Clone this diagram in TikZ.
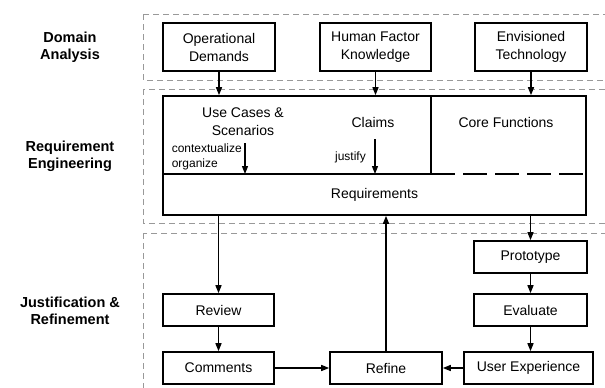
\documentclass[tikz,border=0pt]{standalone}
\usepackage{fontspec}
\setmainfont{Liberation Sans}
\usepackage{tikz}
\usetikzlibrary{arrows.meta}

\begin{document}
\begin{tikzpicture}[x=1pt, y=-1pt,
    box/.style={draw, line width=1.6pt, align=center, inner sep=0pt,
                font=\fontsize{14}{18}\selectfont},
    frame/.style={draw=gray!80, line width=0.8pt, dash pattern=on 6pt off 4pt},
    phase/.style={align=center, font=\fontsize{14.5}{17}\selectfont\bfseries},
    arr/.style={-{Triangle[length=8pt, width=6pt]}, line width=1.3pt},
    small/.style={align=left, inner sep=0pt, font=\fontsize{12}{15}\selectfont}]

    \fill[white] (0,0) rectangle (605,388);
    \useasboundingbox (0,0) rectangle (605,388);

    % the three stages
    \draw[frame] (143,14) rectangle (615,80);
    \draw[frame] (143,89) rectangle (615,223);
    \draw[frame] (143,233) rectangle (615,398);

    \node[phase] (domain) at (70,47) {Domain\\Analysis};
    \node[phase] (reqphase) at (70,156) {Requirement\\Engineering};
    \node[phase] (justphase) at (70,311) {Justification \&\\Refinement};

    % inputs
    \node[box, minimum width=112pt, minimum height=48pt] (opdem) at (219,47) {Operational\\Demands};
    \node[box, minimum width=111pt, minimum height=48pt] (hfk) at (375.5,47) {Human Factor\\Knowledge};
    \node[box, minimum width=112pt, minimum height=48pt] (envtech) at (531,47) {Envisioned\\Technology};

    % requirement block
    \node[box, minimum width=423pt, minimum height=119pt] (reqeng) at (374.5,155.5) {};
    \draw[line width=1.6pt] (163,174) -- (431,174);
    \draw[line width=1.6pt] (431,96) -- (431,174);
    \draw[line width=1.6pt, dash pattern=on 24pt off 8pt] (431,174) -- (586,174);

    \node[box, draw=none] (usecases) at (243,122) {Use Cases \&\\Scenarios};
    \node[box, draw=none] (claims) at (373,122) {Claims};
    \node[box, draw=none] (corefn) at (506,122) {Core Functions};
    \node[box, draw=none] (reqs) at (374.5,195) {Requirements};

    \coordinate (ctxtop) at (245,143);
    \coordinate (ctxbot) at (245,174);
    \coordinate (justop) at (375,139);
    \coordinate (jusbot) at (375,174);
    \node[small, anchor=east] (ctxlbl) at (242,157) {contextualize\\organize};
    \node[small, anchor=east] (juslbl) at (366,157) {justify};
    \draw[arr] (ctxtop) -- (ctxbot);
    \draw[arr] (justop) -- (jusbot);

    % refinement loop
    \node[box, minimum width=111pt, minimum height=32pt] (review) at (218.5,310) {Review};
    \node[box, minimum width=111pt, minimum height=32pt] (comments) at (218.5,368) {Comments};
    \node[box, minimum width=112pt, minimum height=32pt] (refine) at (386,368) {Refine};
    \node[box, minimum width=113pt, minimum height=32pt] (proto) at (530.5,257) {Prototype};
    \node[box, minimum width=113pt, minimum height=32pt] (eval) at (530.5,310) {Evaluate};
    \node[box, minimum width=129pt, minimum height=32pt] (userexp) at (528.5,368) {User Experience};

    \draw[arr] (opdem.south) -- (opdem.south |- reqeng.north);
    \draw[arr] (hfk.south) -- (hfk.south |- reqeng.north);
    \draw[arr] (envtech.south) -- (envtech.south |- reqeng.north);

    \draw[arr] (reqeng.south -| review.north) -- (review.north);
    \draw[arr] (review) -- (comments);
    \draw[arr] (comments) -- (refine);
    \draw[arr] (refine.north) -- (refine.north |- reqeng.south);
    \draw[arr] (reqeng.south -| proto.north) -- (proto.north);
    \draw[arr] (proto) -- (eval);
    \draw[arr] (eval.south) -- (eval.south |- userexp.north);
    \draw[arr] (userexp) -- (refine);
\end{tikzpicture}
\end{document}
